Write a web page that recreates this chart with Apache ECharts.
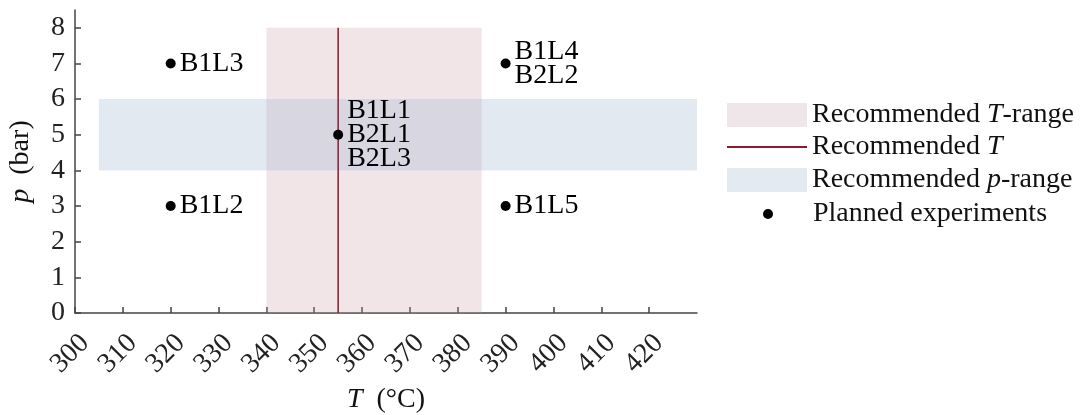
<!DOCTYPE html>
<html>
<head>
<meta charset="utf-8">
<script src="https://cdn.jsdelivr.net/npm/echarts@6/dist/echarts.min.js"></script>
<style>
  html, body { margin: 0; padding: 0; background: #fff; }
  #chart { width: 1088px; height: 415px; }
</style>
</head>
<body>
<div id="chart"></div>
<script>
// Planned experiments: temperature (°C), pressure (bar) and run labels
const expT = [320, 320, 355, 390, 390];
const expP = [7, 3, 5, 7, 3];
const expLabels = ['B1L3', 'B1L2', 'B1L1\nB2L1\nB2L3', 'B1L4\nB2L2', 'B1L5'];

// Recommended operating window
const tRange = [340, 385];     // °C
const tRecommended = 355;      // °C
const pRange = [4, 6];         // bar
const pBandT = [305, 430];     // horizontal extent of the pressure band
const tBandP = [0, 8];         // vertical extent of the temperature band / line

// Axis ticks
const xTicks = [300, 310, 320, 330, 340, 350, 360, 370, 380, 390, 400, 410, 420];
const yTicks = [0, 1, 2, 3, 4, 5, 6, 7, 8];

const FONT = 'Liberation Serif';
const FS = 28;
const TEXT = '#111';
const AXIS = '#444';
const RED = '#8b1a2e';
const T_BAND = 'rgba(200,150,165,0.25)';
const P_BAND = 'rgba(158,182,208,0.3)';

const rich = {
  n: { fontFamily: FONT, fontSize: FS, color: TEXT },
  i: { fontFamily: FONT, fontSize: FS, color: TEXT, fontStyle: 'italic' }
};

const points = expT.map((t, k) => [t, expP[k], expLabels[k]]);

const legendBase = { padding: 0, selectedMode: false, textStyle: { rich } };

const chart = echarts.init(document.getElementById('chart'));
chart.setOption({
  animation: false,
  backgroundColor: '#fff',
  grid: { left: 75, right: 391, top: 10, bottom: 102, containLabel: false, outerBoundsMode: 'none' },
  xAxis: {
    type: 'value', min: 300, max: 430,
    name: '{i|T}{n|  (°C)}',
    nameLocation: 'middle', nameGap: 72,
    nameTextStyle: { rich },
    axisLine: { show: true, lineStyle: { color: AXIS, width: 1.5 } },
    axisTick: { show: true, inside: true, length: 6, customValues: xTicks, lineStyle: { color: AXIS, width: 1.5 } },
    axisLabel: {
      customValues: xTicks, rotate: 45, margin: 16, verticalAlign: 'top',
      fontFamily: FONT, fontSize: FS, color: '#222'
    },
    splitLine: { show: false }
  },
  yAxis: {
    type: 'value', min: 0, max: 8.5,
    name: '{i|p}{n|  (bar)}',
    nameLocation: 'middle', nameGap: 40, nameRotate: 90,
    nameTextStyle: { rich },
    axisLine: { show: true, lineStyle: { color: AXIS, width: 1.5 } },
    axisTick: { show: true, inside: true, length: 6, customValues: yTicks, lineStyle: { color: AXIS, width: 1.5 } },
    axisLabel: {
      customValues: yTicks, margin: 10,
      fontFamily: FONT, fontSize: FS, color: '#222'
    },
    splitLine: { show: false }
  },
  legend: [
    Object.assign({}, legendBase, {
      left: 727, top: 101, itemWidth: 80, itemHeight: 24,
      data: [{ name: 'Recommended T-range', icon: 'rect', itemStyle: { color: '#f0e5e8' } }],
      formatter: () => '{n|Recommended }{i|T}{n|-range}'
    }),
    Object.assign({}, legendBase, {
      left: 727, top: 133, itemWidth: 80, itemHeight: 2,
      data: [{ name: 'Recommended T', icon: 'rect', itemStyle: { color: RED } }],
      formatter: () => '{n|Recommended }{i|T}'
    }),
    Object.assign({}, legendBase, {
      left: 727, top: 166, itemWidth: 80, itemHeight: 24,
      data: [{ name: 'Recommended p-range', icon: 'rect', itemStyle: { color: '#e3eaf1' } }],
      formatter: () => '{n|Recommended }{i|p}{n|-range}'
    }),
    Object.assign({}, legendBase, {
      left: 763, top: 200, itemWidth: 10, itemHeight: 10,
      data: [{ name: 'Planned experiments', icon: 'circle', itemStyle: { color: '#000', opacity: 1 } }],
      formatter: () => '{n|Planned experiments}',
      textStyle: { rich, padding: [0, 0, 0, 35] }
    })
  ],
  series: [
    {
      name: 'Recommended T-range',
      type: 'line', data: [], silent: true,
      itemStyle: { color: '#f0e5e8' },
      markArea: {
        silent: true,
        itemStyle: { color: T_BAND },
        data: [[{ xAxis: tRange[0], yAxis: tBandP[0] }, { xAxis: tRange[1], yAxis: tBandP[1] }]]
      },
      z: 1
    },
    {
      name: 'Recommended p-range',
      type: 'line', data: [], silent: true,
      itemStyle: { color: '#e3eaf1' },
      markArea: {
        silent: true,
        itemStyle: { color: P_BAND },
        data: [[{ xAxis: pBandT[0], yAxis: pRange[0] }, { xAxis: pBandT[1], yAxis: pRange[1] }]]
      },
      z: 2
    },
    {
      name: 'Recommended T',
      type: 'line',
      data: [[tRecommended, tBandP[0]], [tRecommended, tBandP[1]]],
      symbol: 'none',
      lineStyle: { color: RED, width: 1.5 },
      itemStyle: { color: RED },
      z: 3
    },
    {
      name: 'Planned experiments',
      type: 'scatter',
      data: points,
      symbolSize: 10,
      itemStyle: { color: '#000', opacity: 1 },
      label: {
        show: true, position: 'right', distance: 4,
        formatter: p => p.data[2],
        fontFamily: FONT, fontSize: FS, color: '#000', lineHeight: 24
      },
      z: 5
    }
  ]
});
</script>
</body>
</html>
